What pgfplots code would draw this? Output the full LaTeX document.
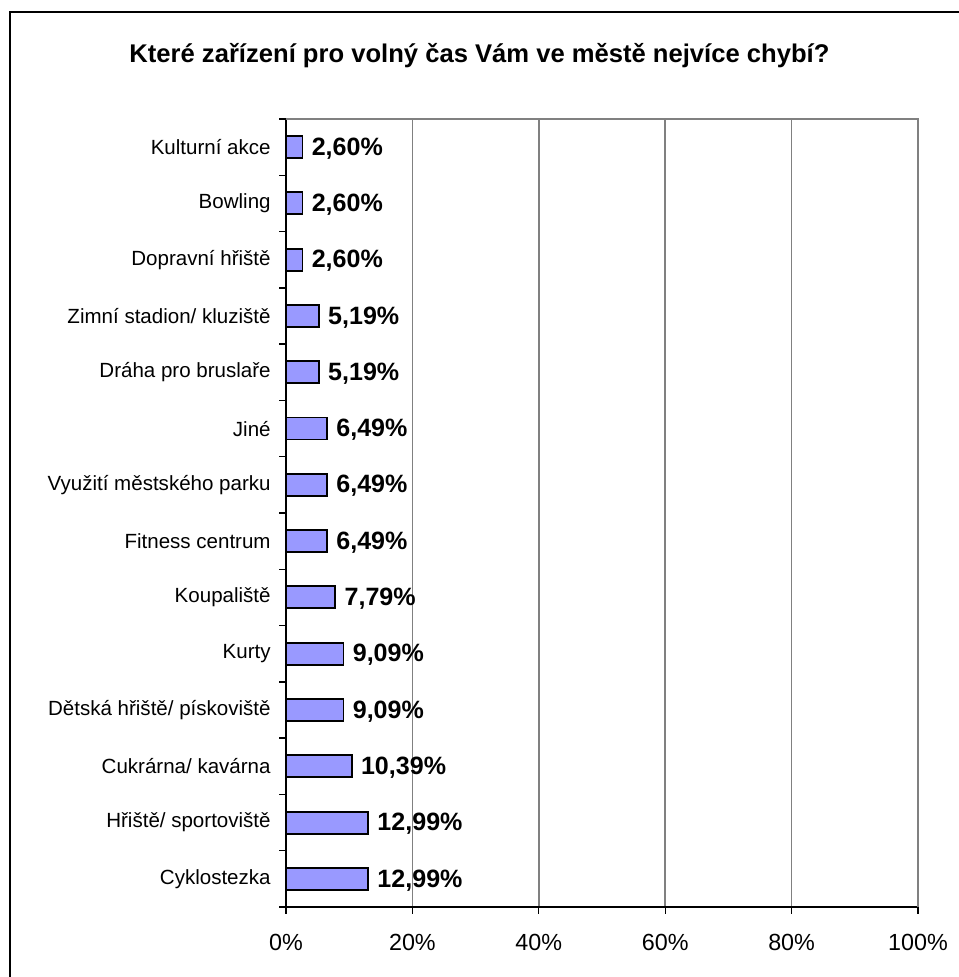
\documentclass[border=0pt]{standalone}
\usepackage{fontspec}
\setmainfont{Liberation Sans}
\usepackage{pgfplots}
\pgfplotsset{compat=1.18}
\definecolor{barblue}{HTML}{9999FF}
\definecolor{gridgray}{HTML}{808080}
\begin{document}
\begin{tikzpicture}
\path[use as bounding box] (0,0) rectangle (719.25pt,732.75pt);
\draw[line width=1.1pt] (7.5pt,-2pt) -- (7.5pt,723.75pt) -- (722pt,723.75pt);
\node[anchor=base,font=\bfseries\fontsize{19.2}{22}\selectfont] at (359.6pt,685.5pt) {Které zařízení pro volný čas Vám ve městě nejvíce chybí?};
\begin{axis}[
  at={(214.5pt,52.5pt)}, anchor=south west,
  scale only axis, width=474pt, height=591pt,
  xmin=0, xmax=100, ymin=-0.5, ymax=13.5,
  axis lines=left,
  axis line style={-, line width=1.1pt, black},
  xtick={0,20,...,100},
  minor xtick={0,20,...,100},
  xticklabel={\pgfmathprintnumber[assume math mode=true]{\tick}\%},
  ytick={0,...,13},
  minor ytick={-0.5,0.5,...,13.5},
  yticklabels={Cyklostezka, Hřiště/ sportoviště, Cukrárna/ kavárna, Dětská hřiště/ pískoviště, Kurty, Koupaliště, Fitness centrum, Využití městského parku, Jiné, Dráha pro bruslaře, Zimní stadion/ kluziště, Dopravní hřiště, Bowling, Kulturní akce},
  tick align=outside,
  major tick length=0pt,
  minor tick length=5pt,
  tick style={black, line width=1pt},
  xmajorgrids,
  major grid style={gridgray, line width=1.1pt},
  xticklabel style={font=\fontsize{17.5}{20}\selectfont, yshift=-16.5pt},
  yticklabel style={font=\fontsize{15.4}{18}\selectfont, xshift=-8pt},
  clip=false,
]
\draw[gridgray, line width=1.1pt] (rel axis cs:0,1) -- (rel axis cs:1,1) -- (rel axis cs:1,0);
\addplot[xbar, bar width=16.5pt, fill=barblue, draw=black, line width=1.4pt,
  point meta=x,
  nodes near coords={\pgfmathprintnumber[fixed,fixed zerofill,precision=2,use comma,assume math mode=true]{\pgfplotspointmeta}\%},
  nodes near coords style={font=\bfseries\fontsize{18.8}{20}\selectfont, anchor=west, black, xshift=3pt, yshift=-1pt}]
coordinates {
  (12.99,0) (12.99,1) (10.39,2) (9.09,3) (9.09,4) (7.79,5) (6.49,6)
  (6.49,7) (6.49,8) (5.19,9) (5.19,10) (2.60,11) (2.60,12) (2.60,13)
};
\end{axis}
\end{tikzpicture}
\end{document}
